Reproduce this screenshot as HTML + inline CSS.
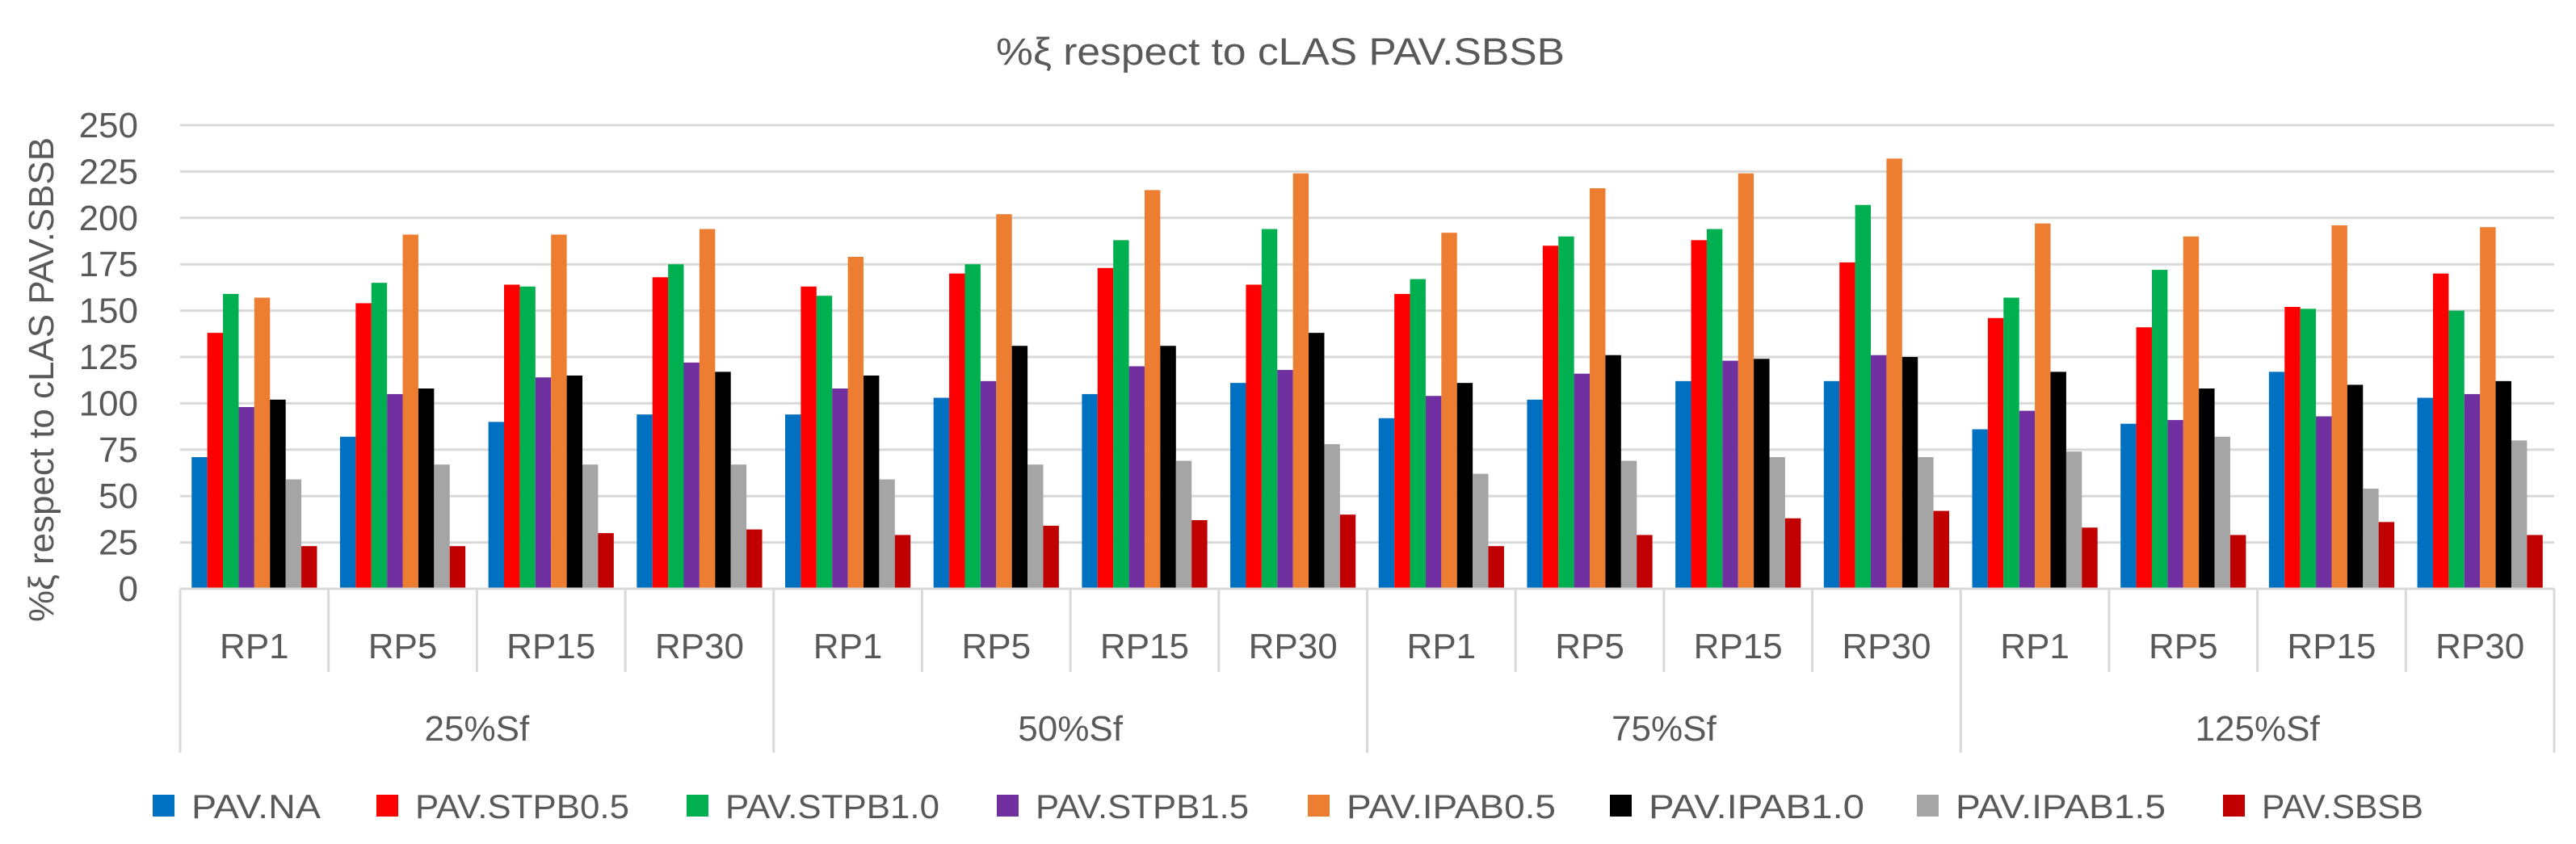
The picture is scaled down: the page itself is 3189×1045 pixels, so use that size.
<!DOCTYPE html>
<html><head><meta charset="utf-8"><style>
html,body{margin:0;padding:0;background:#fff}
svg{display:block;font-family:"Liberation Sans","DejaVu Sans",sans-serif}
</style></head><body>
<svg id="chart" width="3189" height="1045" viewBox="0 0 3189 1045" xmlns="http://www.w3.org/2000/svg">
<rect width="3189" height="1045" fill="#fff"/>
<text x="1233" y="80" font-size="47" fill="#595959" textLength="704" lengthAdjust="spacingAndGlyphs">%ξ respect to cLAS PAV.SBSB</text>
<text transform="translate(66,470) rotate(-90)" font-size="44" fill="#595959" text-anchor="middle" textLength="600" lengthAdjust="spacingAndGlyphs">%ξ respect to cLAS PAV.SBSB</text>
<g id="grid"></g><g id="bars"></g><g id="xaxis"></g><g id="legend"></g>
</svg>
<script>
const groups = ["25%Sf","50%Sf","75%Sf","125%Sf"];
const periods = ["RP1","RP5","RP15","RP30"];
const seriesNames = ["PAV.NA","PAV.STPB0.5","PAV.STPB1.0","PAV.STPB1.5","PAV.IPAB0.5","PAV.IPAB1.0","PAV.IPAB1.5","PAV.SBSB"];
const seriesColors = ["#0070c0","#ff0000","#00b050","#7030a0","#ed7d31","#000000","#a5a5a5","#c00000"];
const yTicks = [0,25,50,75,100,125,150,175,200,225,250];
const sNA     = [71,82,90,94, 94,103,105,111, 92,102,112,112, 86,89,117,103];
const sSTPB05 = [138,154,164,168, 163,170,173,164, 159,185,188,176, 146,141,152,170];
const sSTPB10 = [159,165,163,175, 158,175,188,194, 167,190,194,207, 157,172,151,150];
const sSTPB15 = [98,105,114,122, 108,112,120,118, 104,116,123,126, 96,91,93,105];
const sIPAB05 = [157,191,191,194, 179,202,215,224, 192,216,224,232, 197,190,196,195];
const sIPAB10 = [102,108,115,117, 115,131,131,138, 111,126,124,125, 117,108,110,112];
const sIPAB15 = [59,67,67,67, 59,67,69,78, 62,69,71,71, 74,82,54,80];
const sSBSB   = [23,23,30,32, 29,34,37,40, 23,29,38,42, 33,29,36,29];
const seriesValues = [sNA,sSTPB05,sSTPB10,sSTPB15,sIPAB05,sIPAB10,sIPAB15,sSBSB];

const NS="http://www.w3.org/2000/svg";
const L=223,R=3162,Y0=729,Y250=155,yMax=250;
const y=v=>Y0-(v/yMax)*(Y0-Y250);
const nCat=groups.length*periods.length;
const cw=(R-L)/nCat;
const x=i=>L+i*cw;
function mk(t,a,p){const e=document.createElementNS(NS,t);for(const k in a)e.setAttribute(k,a[k]);p.appendChild(e);return e;}
const grid=document.getElementById('grid');
yTicks.forEach(t=>{
  if(t>0){const ln=mk('line',{x1:L,x2:R,y1:y(t),y2:y(t),stroke:'#d9d9d9','stroke-width':3},grid);
  
  }
  const tx=mk('text',{x:171,y:y(t)+15,'font-size':44,fill:'#595959','text-anchor':'end'},grid);
  tx.textContent=t;
  
  
});
const bars=document.getElementById('bars');
const bw=19.4, pad=(cw-8*bw)/2;
seriesValues.forEach((arr,s)=>{
  arr.forEach((v,i)=>{
    const r=mk('rect',{x:x(i)+pad+s*bw,y:y(v),width:bw,height:Y0-y(v),fill:seriesColors[s]},bars);
    
    
  });
});
const xa=document.getElementById('xaxis');
const ax=mk('line',{x1:L,x2:R,y1:Y0,y2:Y0,stroke:'#d9d9d9','stroke-width':3},xa);


for(let i=0;i<=nCat;i++){
  const big=i%periods.length===0;
  const sep=mk('line',{x1:x(i),x2:x(i),y1:Y0,y2:big?932:832,stroke:'#d9d9d9','stroke-width':3},xa);
  
  
}
for(let i=0;i<nCat;i++){
  const t=mk('text',{x:x(i)+cw/2,y:815,'font-size':44,fill:'#595959','text-anchor':'middle'},xa);
  t.textContent=periods[i%periods.length];
  
  
}
groups.forEach((g,k)=>{
  const t=mk('text',{x:x(k*4)+2*cw,y:917,'font-size':44,fill:'#595959','text-anchor':'middle'},xa);
  t.textContent=g;
  
  
});
const lg=document.getElementById('legend');
const lsq=[189,466,850,1234,1619,1993,2373,2752];
const lend=[397,779,1163,1546,1926,2308,2681,3000];
seriesNames.forEach((n,s)=>{
  const sq=mk('rect',{x:lsq[s],y:984,width:27,height:27,fill:seriesColors[s]},lg);
  
  
  const t=mk('text',{x:lsq[s]+48,y:1013,'font-size':42,fill:'#595959',textLength:lend[s]-lsq[s]-48,lengthAdjust:'spacingAndGlyphs'},lg);
  t.textContent=n;
  
  
});
</script>
</body></html>
